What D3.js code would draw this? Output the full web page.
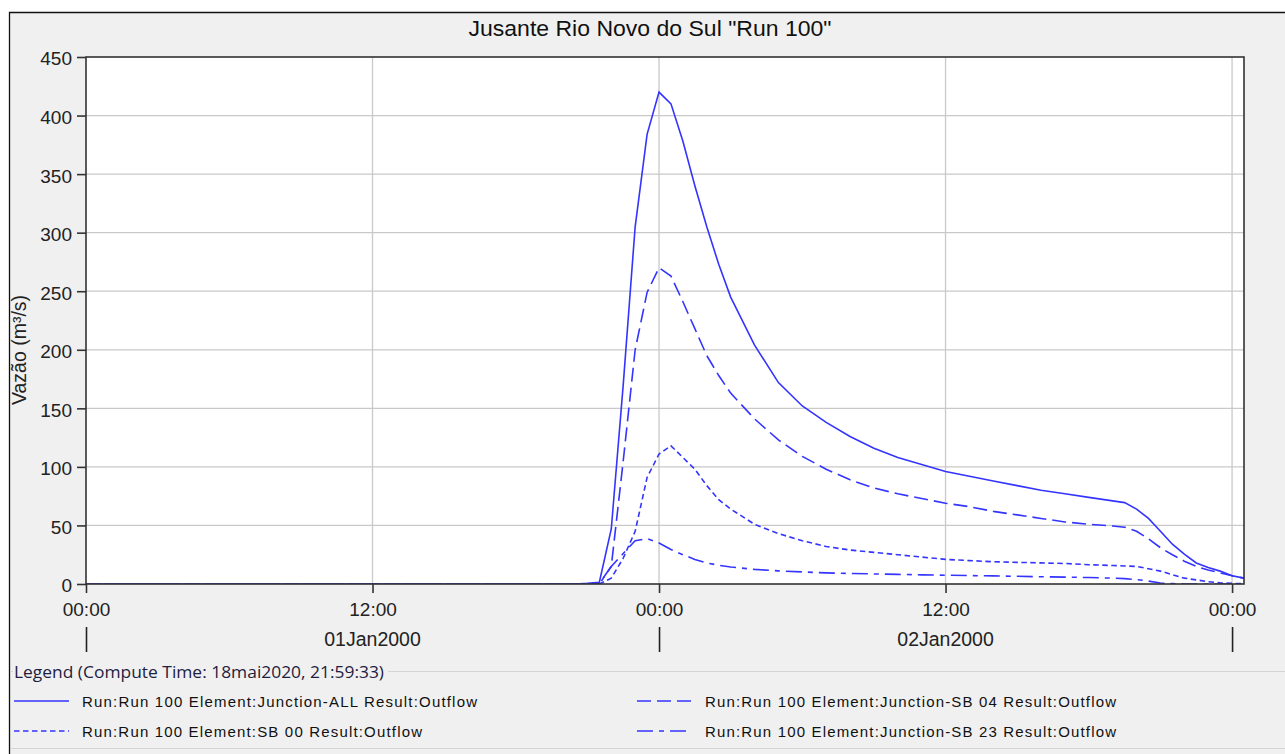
<!DOCTYPE html>
<html><head><meta charset="utf-8">
<script src="https://cdn.jsdelivr.net/npm/d3@7"></script>
<style>body{margin:0;background:#fff}svg{display:block}</style>
</head><body>
<svg id="c" width="1285" height="754"></svg>
<script>
// ---- data (hours since 01Jan2000 00:00) ----
const hours = [0, 20.5, 21, 21.5, 22, 22.5, 23, 23.5, 24, 24.5, 25, 25.5, 26, 26.5, 27, 28, 29, 30, 31, 32, 33, 34, 35, 36, 37, 38, 39, 40, 41, 42, 43, 43.5, 44, 44.5, 45, 45.5, 46, 46.5, 47, 47.5, 48, 48.5];
const junctionALL = [0, 0, 0.5, 1.5, 47, 170, 305, 384, 420, 410, 378, 340, 305, 273, 245, 204, 172, 152, 138, 126, 116, 108, 102, 96, 92, 88, 84, 80, 77, 74, 71, 69.5, 64, 56, 45, 34, 25.5, 18, 14, 11, 7, 5];
const junctionSB04 = [0, 0, 0, 0.5, 15, 105, 200, 249, 270, 263, 241, 218, 195, 178, 163, 141, 123, 109, 98, 89, 82, 77, 73, 69, 66, 62, 59, 56, 53, 51, 49.5, 48.5, 45, 38.5, 31, 25, 19.5, 15, 12, 9.5, 7, 5];
const sb00 = [0, 0, 0, 0, 5, 22, 45, 91, 111, 118, 108, 98, 84, 72, 64, 51, 43, 37, 32, 29, 27, 25, 23, 21, 20, 19, 18.5, 18, 17.5, 16.5, 15.8, 15.4, 15, 13, 11, 8, 5, 3.5, 2, 1, 0.5, 0.3];
const junctionSB23 = [0, 0, 0, 0, 15, 26, 37, 38.7, 35, 29.5, 25, 21, 18, 16, 14.5, 12.5, 11.2, 10.3, 9.5, 9, 8.6, 8.2, 7.8, 7.5, 7.2, 6.9, 6.6, 6.2, 5.9, 5.5, 5, 4.6, 3.8, 2.5, 0.8, 0.3, 0, 0, 0, 0, 0, 0];

const yTicks = [0, 50, 100, 150, 200, 250, 300, 350, 400, 450];
const xTickHours = [0, 12, 24, 36, 48];
const xTickLabels = ["00:00", "12:00", "00:00", "12:00", "00:00"];
const dayBoundaryHours = [0, 24, 48];
const dayLabelHours = [12, 36];
const dayLabels = ["01Jan2000", "02Jan2000"];
const seriesNames = [
  "Run:Run 100 Element:Junction-ALL Result:Outflow",
  "Run:Run 100 Element:Junction-SB 04 Result:Outflow",
  "Run:Run 100 Element:SB 00 Result:Outflow",
  "Run:Run 100 Element:Junction-SB 23 Result:Outflow"
];
const titleText = 'Jusante Rio Novo do Sul "Run 100"';
const yLabel = "Vazão (m³/s)";
const legendTitle = "Legend (Compute Time: 18mai2020, 21:59:33)";

// ---- layout ----
const L = 86, R = 1244, T = 57, B = 584;
const t0 = Date.UTC(2000, 0, 1);
const toDate = h => new Date(t0 + h * 3600e3);
const x = d3.scaleUtc().domain([toDate(0), toDate(48.5)]).range([L, R]);
const y = d3.scaleLinear().domain([0, 450]).range([B, T]);
const blue = "#3434ff";
const dashes = [null, "14,6", "5.5,3.5", "16,6,5,6"];
const seriesVals = [junctionALL, junctionSB04, sb00, junctionSB23];

const svg = d3.select("#c");
const font = "'Liberation Sans', Arial, sans-serif";

// background panel
svg.append("rect").attr("x", 9).attr("y", 12).attr("width", 1285 - 9).attr("height", 754 - 12).attr("fill", "#f0f0f0");
svg.append("path").attr("d", "M9.5,754 V12.5 H1285").attr("fill", "none").attr("stroke", "#111").attr("stroke-width", 1.3);

// title
svg.append("text").attr("x", 650).attr("y", 36).attr("text-anchor", "middle")
  .attr("font-family", font).attr("font-size", 22).attr("fill", "#111")
  .attr("textLength", 363).attr("lengthAdjust", "spacingAndGlyphs").text(titleText);

// plot area
svg.append("rect").attr("x", L).attr("y", T).attr("width", R - L).attr("height", B - T).attr("fill", "#fff");

// grid
const grid = svg.append("g").attr("stroke", "#c9c9c9").attr("stroke-width", 1.3);
grid.selectAll("line.h").data(yTicks.slice(1, -1)).join("line")
  .attr("x1", L).attr("x2", R).attr("y1", d => y(d)).attr("y2", d => y(d));
grid.selectAll("line.v").data(xTickHours.slice(1)).join("line")
  .attr("x1", d => x(toDate(d))).attr("x2", d => x(toDate(d))).attr("y1", T).attr("y2", B);

// series
svg.append("clipPath").attr("id", "clip").append("rect").attr("x", L).attr("y", T - 2).attr("width", R - L).attr("height", B - T + 2);
const line = d3.line().x(d => x(toDate(d[0]))).y(d => y(d[1]));
const lines = svg.append("g").attr("clip-path", "url(#clip)");
seriesVals.forEach((vals, i) => {
  lines.append("path").datum(hours.map((h, k) => [h, vals[k]]))
    .attr("d", line).attr("fill", "none").attr("stroke", blue).attr("stroke-width", 1.6)
    .attr("stroke-dasharray", dashes[i]);
});

// plot border
svg.append("rect").attr("x", L).attr("y", T).attr("width", R - L).attr("height", B - T)
  .attr("fill", "none").attr("stroke", "#333").attr("stroke-width", 1.6);

// y axis
const yAxis = svg.append("g").attr("transform", `translate(${L},0)`)
  .call(d3.axisLeft(y).tickValues(yTicks).tickSize(9).tickPadding(5));
yAxis.select(".domain").remove();
yAxis.selectAll(".tick line").attr("stroke", "#333").attr("stroke-width", 1.6);
yAxis.selectAll(".tick text").attr("font-family", font).attr("font-size", 19).attr("fill", "#222").attr("dy", "0.42em");

// x axis (time labels)
const xAxis = svg.append("g").attr("transform", `translate(0,${B})`)
  .call(d3.axisBottom(x).tickValues(xTickHours.map(toDate)).tickFormat((d, i) => xTickLabels[i]).tickSize(9).tickPadding(10));
xAxis.select(".domain").remove();
xAxis.selectAll(".tick line").attr("stroke", "#333").attr("stroke-width", 1.6);
xAxis.selectAll(".tick text").attr("font-family", font).attr("font-size", 19).attr("fill", "#222");

// day boundary ticks
const dAxis = svg.append("g").attr("transform", `translate(0,627)`)
  .call(d3.axisBottom(x).tickValues(dayBoundaryHours.map(toDate)).tickFormat("").tickSize(25));
dAxis.select(".domain").remove();
dAxis.selectAll(".tick line").attr("stroke", "#222").attr("stroke-width", 1.6);

svg.selectAll("text.day").data(dayLabelHours).join("text").attr("class", "day")
  .attr("x", d => x(toDate(d))).attr("y", 646).attr("text-anchor", "middle")
  .attr("font-family", font).attr("font-size", 19.5).attr("fill", "#222")
  .text((d, i) => dayLabels[i]);

// y label
svg.append("text").attr("transform", "translate(26,350) rotate(-90)").attr("text-anchor", "middle")
  .attr("font-family", font).attr("font-size", 19.5).attr("fill", "#222").text(yLabel);

// legend
svg.append("line").attr("x1", 10).attr("x2", 1285).attr("y1", 671.5).attr("y2", 671.5).attr("stroke", "#d4d4d4").attr("stroke-width", 1.2);
svg.append("rect").attr("x", 13).attr("y", 659).attr("width", 375).attr("height", 26).attr("fill", "#f0f0f0");
svg.append("text").attr("x", 14).attr("y", 678).attr("font-family", "'Open Sans', 'Noto Sans', sans-serif")
  .attr("font-size", 16.5).attr("fill", "#1e2040").attr("textLength", 370).attr("lengthAdjust", "spacingAndGlyphs").text(legendTitle);
svg.append("line").attr("x1", 10).attr("x2", 1285).attr("y1", 748.5).attr("y2", 748.5).attr("stroke", "#d4d4d4").attr("stroke-width", 1.2);

const legPos = [[14, 701], [637, 701], [14, 731], [637, 731]];
const legTextLen = [395, 411, 340, 411];
const leg = svg.append("g");
seriesNames.forEach((name, i) => {
  const [lx, ly] = legPos[i];
  leg.append("line").attr("x1", lx).attr("x2", lx + 55).attr("y1", ly).attr("y2", ly)
    .attr("stroke", blue).attr("stroke-width", 1.6).attr("stroke-dasharray", dashes[i]);
  leg.append("text").attr("x", lx + 68).attr("y", ly + 5.5).attr("font-family", font)
    .attr("font-size", 15).attr("fill", "#111")
    .attr("textLength", legTextLen[i]).attr("lengthAdjust", "spacing").text(name);
});
</script>
</body></html>
